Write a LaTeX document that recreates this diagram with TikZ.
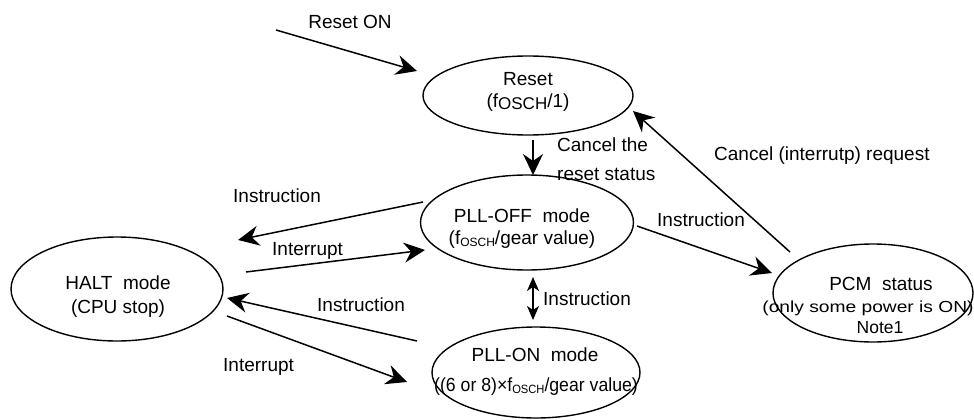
\documentclass[tikz,border=0pt]{standalone}
\usepackage{fontspec}
\setmainfont{Liberation Sans}
\usetikzlibrary{arrows.meta,shapes.geometric}

% lowered subscript "OSCH", full size and small
\newcommand\oscbig{\raisebox{-2.5pt}{\fontsize{17}{17}\selectfont OSCH}}
\newcommand\oscsmall{\raisebox{-2.5pt}{\fontsize{12}{12}\selectfont OSCH}}

\begin{document}
\begin{tikzpicture}[x=1pt,y=-1pt,
  state/.style={draw, ellipse, line width=1.4pt, inner sep=0pt},
  lbl/.style={font=\fontsize{19}{22}\selectfont, inner sep=0pt, anchor=base},
  lbll/.style={lbl, anchor=base west},
  conn/.style={line width=1.5pt, -{Stealth[length=21pt,width=20pt,inset=7pt]}},
  dblconn/.style={line width=1.5pt, {Stealth[length=14pt,width=12pt,inset=4pt]}-{Stealth[length=14pt,width=12pt,inset=4pt]}},
]
\useasboundingbox (0,0) rectangle (974,420);
\fill[white] (0,0) rectangle (974,420);

% states
\node[state, minimum width=210pt, minimum height=79pt]  (reset)  at (528,95.5) {};
\node[state, minimum width=213pt, minimum height=95pt]  (plloff) at (527,222.5) {};
\node[state, minimum width=208pt, minimum height=91pt]  (pllon)  at (536,372.5) {};
\node[state, minimum width=212pt, minimum height=104pt] (halt)   at (117,289) {};
\node[state, minimum width=200pt, minimum height=98pt]  (pcm)    at (873,293) {};

% state texts
\node[lbl] (tReset1) at (528,85) {Reset};
\node[lbl] (tReset2) at (528,107) {(f\oscbig/1)};
\node[lbl] (tOff1) at (522,222) {PLL-OFF\ \ mode};
\node[lbl] (tOff2) at (522,244) {(f\oscsmall/gear value)};
\node[lbl] (tOn1) at (535,361) {PLL-ON\ \ mode};
\node[lbl] (tOn2) at (536,391) {\scalebox{0.93}[1]{((6 or 8)×f\oscsmall/gear value)}};
\node[lbl] (tHalt1) at (118,289) {HALT\ \ mode};
\node[lbl] (tHalt2) at (118,313) {(CPU stop)};
\node[lbl] (tPcm1) at (881,290) {PCM\ \ status};
\node[lbl, font=\fontsize{16}{18}\selectfont] (tPcm2) at (868,312) {\scalebox{1.2}[1]{(only some power is ON)}};
\node[lbl, font=\fontsize{17.5}{20}\selectfont] (tPcm3) at (880,333) {Note1};

% connector end points
\coordinate (rsA) at (276,30);   \coordinate (rsB) at (417,71);
\coordinate (roA) at (533,140);  \coordinate (roB) at (533,175);
\coordinate (ohA) at (423,202);  \coordinate (ohB) at (238,240);
\coordinate (hoA) at (246,272);  \coordinate (hoB) at (425,250);
\coordinate (nhA) at (417,341);  \coordinate (nhB) at (227,298);
\coordinate (hnA) at (227,316);  \coordinate (hnB) at (407,382);
\coordinate (onA) at (533,277);  \coordinate (onB) at (533,320);
\coordinate (opA) at (637,226);  \coordinate (opB) at (772,273);
\coordinate (prA) at (790,252);  \coordinate (prB) at (633,111);

% connectors
\draw[conn] (rsA) -- (rsB);
\draw[conn] (roA) -- (roB);
\draw[conn] (ohA) -- (ohB);
\draw[conn] (hoA) -- (hoB);
\draw[conn] (nhA) -- (nhB);
\draw[conn] (hnA) -- (hnB);
\draw[dblconn] (onA) -- (onB);
\draw[conn] (opA) -- (opB);
\draw[conn] (prA) -- (prB);

% connector labels
\node[lbl] (lResetOn) at (350,29) {Reset ON};
\node[lbll] (lCancel1) at (557,151) {Cancel the};
\node[lbll] (lCancel2) at (557,180) {reset status};
\node[lbll] (lCancelReq) at (714,160) {Cancel (interrutp) request};
\node[lbll] (lInstrA) at (233,202) {Instruction};
\node[lbll] (lIntA) at (272,255) {Interrupt};
\node[lbll] (lInstrB) at (657,226) {Instruction};
\node[lbll] (lInstrC) at (317,311) {Instruction};
\node[lbll] (lIntB) at (223,371) {Interrupt};
\node[lbll] (lInstrD) at (543,305) {Instruction};
\end{tikzpicture}
\end{document}
